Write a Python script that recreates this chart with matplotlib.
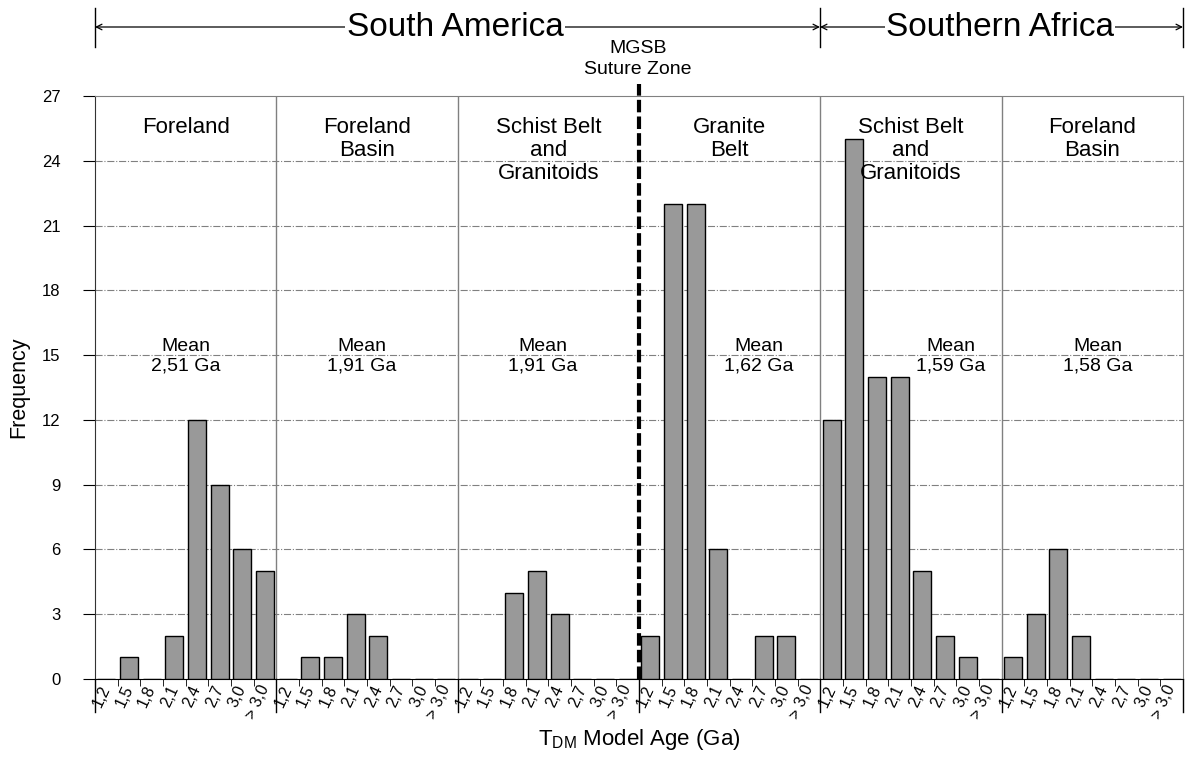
import matplotlib.pyplot as plt
import numpy as np

plt.rcParams['font.family'] = ['Liberation Sans', 'DejaVu Sans']

# age classes (Ga) used in each panel
age_bins = ['1,2', '1,5', '1,8', '2,1', '2,4', '2,7', '3,0', '> 3,0']

panel_names = ['Foreland', 'Foreland\nBasin', 'Schist Belt\nand\nGranitoids',
               'Granite\nBelt', 'Schist Belt\nand\nGranitoids', 'Foreland\nBasin']
mean_ages = ['2,51', '1,91', '1,91', '1,62', '1,59', '1,58']

freq_foreland_sa = [0, 1, 0, 2, 12, 9, 6, 5]
freq_basin_sa = [0, 1, 1, 3, 2, 0, 0, 0]
freq_schist_sa = [0, 0, 4, 5, 3, 0, 0, 0]
freq_granite = [2, 22, 22, 6, 0, 2, 2, 0]
freq_schist_af = [12, 25, 14, 14, 5, 2, 1, 0]
freq_basin_af = [1, 3, 6, 2, 0, 0, 0, 0]

panels = [freq_foreland_sa, freq_basin_sa, freq_schist_sa,
          freq_granite, freq_schist_af, freq_basin_af]

# horizontal nudge of the "Mean" labels inside each panel
mean_shift = [0.0, -0.22, -0.26, 1.28, 1.75, 0.25]

nb = len(age_bins)
W, H = 1188, 761
fig = plt.figure(figsize=(W / 100, H / 100), dpi=100)
ax = fig.add_axes([95 / W, 1 - 679 / H, (1183 - 95) / W, (679 - 96) / H])

x = np.arange(nb * len(panels))
heights = np.concatenate(panels)
ax.bar(x, heights, width=0.78, color='#999999', edgecolor='black', linewidth=1, zorder=3)

ax.set_xlim(-0.5, nb * len(panels) - 0.5)
ax.set_ylim(0, 27)
ax.set_yticks(np.arange(0, 28, 3))
ax.tick_params(axis='y', direction='out', length=9, labelsize=12, pad=16, color='black')
for yv in range(3, 27, 3):
    ax.axhline(yv, color='#808080', lw=0.8, ls='-.', zorder=1)

ax.set_xticks(x)
ax.set_xticklabels(age_bins * len(panels), rotation=65, rotation_mode='anchor',
                   ha='right', va='center', fontsize=11.5)
ax.tick_params(axis='x', which='major', length=0, pad=5)
ax.set_xticks(np.arange(-0.5, nb * len(panels), 1), minor=True)
ax.tick_params(axis='x', which='minor', length=5, direction='out')

for s in ['top', 'right']:
    ax.spines[s].set_color('#808080')
ax.spines['left'].set_color('#333333')

# panel separators
for p in range(1, len(panels)):
    xb = p * nb - 0.5
    if p == 3:
        ax.plot([xb, xb], [0, 27.55], color='black', lw=3, dashes=(3, 1), clip_on=False, zorder=5)
    else:
        ax.axvline(xb, color='#808080', lw=1, zorder=2)
trans = ax.get_xaxis_transform()
for p in range(0, len(panels) + 1):
    xb = p * nb - 0.5
    ax.plot([xb, xb], [0, -33 / 583], color='black', lw=1, transform=trans, clip_on=False)

for p, name in enumerate(panel_names):
    cx = p * nb + (nb - 1) / 2
    ax.text(cx, 26.05, name, ha='center', va='top', fontsize=16, linespacing=1.15)
    ax.text(cx + mean_shift[p], 14.95, 'Mean\n' + mean_ages[p] + ' Ga', ha='center', va='center',
            fontsize=14, linespacing=1.2)

ax.set_ylabel('Frequency', fontsize=15.5, labelpad=9)
ax.set_xlabel('T$_{\\mathregular{DM}}$ Model Age (Ga)', fontsize=16, labelpad=4)

# region brackets at the top
def fx(px):
    return px / W

def fy(py):
    return 1 - py / H

for px in [95, 820, 1183]:
    fig.add_artist(plt.Line2D([fx(px), fx(px)], [fy(8), fy(47)], color='black', lw=1))
for x0, x1, label, xc in [(95, 820, 'South America', 455), (820, 1183, 'Southern Africa', 1000)]:
    ax.annotate('', xy=(fx(x0), fy(27)), xytext=(fx(x1), fy(27)), xycoords='figure fraction',
                textcoords='figure fraction',
                arrowprops=dict(arrowstyle='<->', lw=0.9, color='black', shrinkA=0, shrinkB=0,
                                mutation_scale=10))
    fig.text(fx(xc), fy(27), label, ha='center', va='center', fontsize=24,
             bbox=dict(facecolor='white', edgecolor='none', pad=1))

fig.text(fx(638), fy(59), 'MGSB\nSuture Zone', ha='center', va='center', fontsize=14, linespacing=1.25)

fig.savefig('out.png', dpi=100)
